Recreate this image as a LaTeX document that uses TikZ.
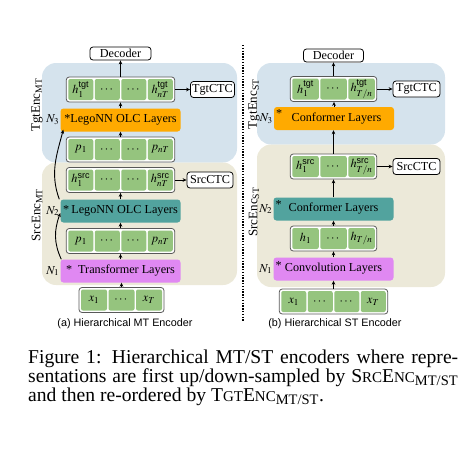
\documentclass[tikz,border=0pt]{standalone}
\usepackage{amsmath}
\usepackage{mathptmx}
\usepackage[no-math]{fontspec}
\setmainfont{Liberation Serif}
\setsansfont{Liberation Sans}
\usepackage{tikz}
\usetikzlibrary{arrows.meta, positioning, fit, calc, backgrounds}
\pgfdeclarelayer{back}
\pgfsetlayers{back,background,main}

\definecolor{tgtblue}{RGB}{213,227,237}
\definecolor{srctan}{RGB}{236,233,217}
\definecolor{tokgreen}{RGB}{149,196,126}
\definecolor{olcorange}{RGB}{255,170,0}
\definecolor{confteal}{RGB}{82,163,158}
\definecolor{convviolet}{RGB}{224,136,242}

\newcommand{\fakesc}[1]{{\fontsize{15pt}{15pt}\selectfont #1}}
\newcommand{\encsub}{$_{\text{MT/ST}}$}
\newcommand{\tokrow}[5]{%
  \coordinate (#1-0) at ($(#2)+({-(#3-1)*(#4+1.5)/2},0)$);
  \foreach \lab [count=\i] in {#5}
    \node[tok, minimum width=#4] (#1-\i) at ($(#1-0)+({(\i-1)*(#4+1.5)},0)$) {\lab};
  \begin{pgfonlayer}{background}
    \node[tokrow, fit=(#1-1)(#1-#3)] (#1) {};
  \end{pgfonlayer}
}

\begin{document}
\begin{tikzpicture}[x=1pt, y=1pt, font=\fontsize{12.2}{14}\selectfont,
  tok/.style={fill=tokgreen, rounded corners=2pt, minimum height=21, inner sep=0pt},
  tokrow/.style={draw=black!65, fill=white, rounded corners=3pt, inner sep=1.8pt, line width=0.8pt},
  layerbox/.style={rounded corners=3pt, minimum width=120, minimum height=23, inner sep=0pt},
  outbox/.style={draw, fill=white, rounded corners=3pt, line width=0.8pt, inner sep=0pt, minimum height=16},
  nlabel/.style={anchor=east, inner sep=1pt},
  starmark/.style={anchor=north west, inner sep=0pt},
  encname/.style={rotate=90, font=\fontsize{13}{14}\selectfont},
  subcap/.style={font=\sffamily\fontsize{10.8}{12}\selectfont},
  arr/.style={-{Stealth[length=4pt,width=3.6pt]}, line width=0.9pt}]
  \useasboundingbox (0,0) rectangle (467,-467);

  \begin{pgfonlayer}{back}
    \fill[tgtblue, rounded corners=14pt] (42,-63) rectangle (237,-162.5);
    \fill[srctan, rounded corners=14pt] (42,-162.5) rectangle (237,-285);
    \fill[tgtblue, rounded corners=14pt] (257,-63) rectangle (445,-144.5);
    \fill[srctan, rounded corners=14pt] (257,-144.5) rectangle (445,-287);
  \end{pgfonlayer}
  \draw[line width=1.2pt, dash pattern=on 1.4pt off 1.4pt] (243,-45) -- (243,-322);

  % (a) MT encoder
  \node[outbox, minimum width=61, minimum height=13] (decL) at (120.5,-53.5) {Decoder};
  \tokrow{htL}{120.5,-89.5}{4}{25}{$h_1^{\textsf{tgt}}$, $\cdots$, $\cdots$, $h_{nT}^{\textsf{tgt}}$}
  \node[outbox, minimum width=44] (tctcL) at (212.5,-89.5) {TgtCTC};
  \node[layerbox, fill=olcorange] (oL) at (120.5,-120) {*LegoNN OLC Layers};
  \tokrow{ptL}{120.5,-149.5}{4}{25}{$p_1$, $\cdots$, $\cdots$, $p_{nT}$}
  \tokrow{hsL}{120.5,-180}{4}{25}{$h_1^{\textsf{src}}$, $\cdots$, $\cdots$, $h_{nT}^{\textsf{src}}$}
  \node[outbox, minimum width=46] (sctcL) at (210,-180) {SrcCTC};
  \node[layerbox, fill=confteal] (tL) at (120.5,-211) {*\,LegoNN OLC Layers};
  \tokrow{psL}{120.5,-241}{4}{25}{$p_1$, $\cdots$, $\cdots$, $p_{nT}$}
  \node[layerbox, fill=convviolet] (vL) at (120.5,-271) {*\ \ Transformer Layers};
  \tokrow{xL}{121.5,-300}{3}{26}{$x_1$, $\cdots$, $x_T$}
  \node[nlabel] (n3L) at (oL.west) {$N_3$};
  \node[nlabel] (n2L) at (tL.west) {$N_2$};
  \node[nlabel] (n1L) at (vL.west) {$N_1$};
  \node[encname] (tgtnameL) at (37,-105) {TgtEnc$_{\text{MT}}$};
  \node[encname] (srcnameL) at (37,-215) {SrcEnc$_{\text{MT}}$};
  \node[subcap] (capA) at (125,-324) {(a) Hierarchical MT Encoder};

  \draw[arr] (xL.north) -- (xL.north |- vL.south);
  \draw[arr] (vL.north) -- (vL.north |- psL.south);
  \draw[arr] (psL.north) -- (psL.north |- tL.south);
  \draw[arr] (tL.north) -- (tL.north |- hsL.south);
  \draw[arr] (hsL.east) -- (hsL.east -| sctcL.west);
  \draw[arr] (ptL.north) -- (ptL.north |- oL.south);
  \draw[arr] (oL.north) -- (oL.north |- htL.south);
  \draw[arr] (htL.north) -- (htL.north |- decL.south);
  \draw[arr] (htL.east) -- (htL.east -| tctcL.west);
  \draw[arr] ([xshift=1pt]vL.north west) to[out=115, in=250] ([yshift=-2pt]tL.west);
  \draw[arr] ([xshift=-1pt]tL.north west) to[out=110, in=255] ([xshift=3pt,yshift=2pt]oL.south west);

  % (b) ST encoder
  \node[outbox, minimum width=60, minimum height=13] (decR) at (333.5,-55.5) {Decoder};
  \tokrow{htR}{333.5,-89}{3}{26.5}{$h_1^{\textsf{tgt}}$, $\cdots$, $h_{T/n}^{\textsf{tgt}}$}
  \node[outbox, minimum width=47] (tctcR) at (416.5,-89) {TgtCTC};
  \node[layerbox, fill=olcorange] (oR) at (334,-118.5) {\hspace{5pt}Conformer Layers};
  \tokrow{hsR}{333.5,-166.5}{3}{26.5}{$h_1^{\textsf{src}}$, $\cdots$, $h_{T/n}^{\textsf{src}}$}
  \node[outbox, minimum width=47] (sctcR) at (416.5,-166.5) {SrcCTC};
  \node[layerbox, fill=confteal] (tR) at (333.5,-209) {Conformer Layers};
  \tokrow{hR}{333.5,-238.5}{3}{26.5}{$h_1$, $\cdots$, $h_{T/n}$}
  \node[layerbox, fill=convviolet] (vR) at (333.5,-269) {Convolution Layers};
  \tokrow{xR}{333.5,-301.5}{4}{25}{$x_1$, $\cdots$, $\cdots$, $x_T$}
  \node[starmark] (s3R) at ([xshift=2pt,yshift=-3pt]oR.north west) {*};
  \node[starmark] (s2R) at ([xshift=2pt,yshift=-3.5pt]tR.north west) {*};
  \node[starmark] (s1R) at ([xshift=2pt,yshift=-4pt]vR.north west) {*};
  \node[nlabel] (n3R) at (oR.west) {$N_3$};
  \node[nlabel] (n2R) at (tR.west) {$N_2$};
  \node[nlabel] (n1R) at (vR.west) {$N_1$};
  \node[encname] (tgtnameR) at (254,-104) {TgtEnc$_{\text{ST}}$};
  \node[encname] (srcnameR) at (254,-212) {SrcEnc$_{\text{ST}}$};
  \node[subcap] (capB) at (335,-324) {(b) Hierarchical ST Encoder};

  \draw[arr] (xR.north) -- (xR.north |- vR.south);
  \draw[arr] (vR.north) -- (vR.north |- hR.south);
  \draw[arr] (hR.north) -- (hR.north |- tR.south);
  \draw[arr] (tR.north) -- (tR.north |- hsR.south);
  \draw[arr] (hsR.north) -- (hsR.north |- oR.south);
  \draw[arr] (hsR.east) -- (hsR.east -| sctcR.west);
  \draw[arr] (oR.north) -- (oR.north |- htR.south);
  \draw[arr] (htR.north) -- (htR.north |- decR.south);
  \draw[arr] (htR.east) -- (htR.east -| tctcR.west);

  \node[anchor=north west, inner sep=0pt, text width=430, align=justify,
        font=\fontsize{19.6}{18.8}\selectfont] (figcap) at (28,-350)
    {Figure 1: Hierarchical MT/ST encoders where repre-\linebreak
     sentations are first up/down-sampled by S\fakesc{RC}E\fakesc{NC}\encsub\linebreak
     and then re-ordered by T\fakesc{GT}E\fakesc{NC}\encsub.};
\end{tikzpicture}
\end{document}
